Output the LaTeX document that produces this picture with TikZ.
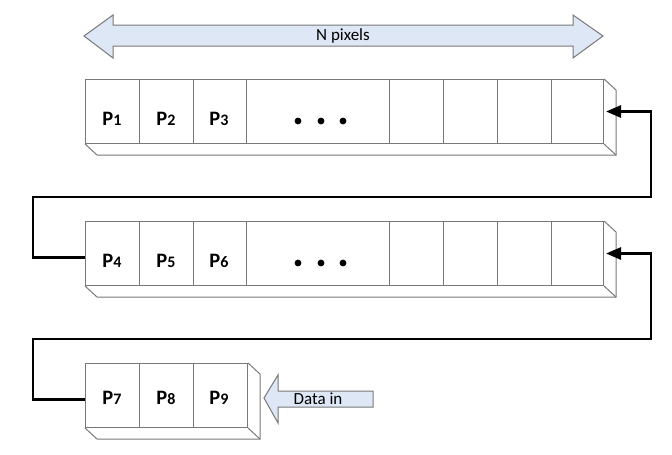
\documentclass[tikz,border=0pt]{standalone}
\usepackage{fontspec}
\setmainfont{Carlito}
\usetikzlibrary{arrows.meta}
\definecolor{lg}{RGB}{120,120,120}
\definecolor{af}{RGB}{222,231,245}
\begin{document}
\begin{tikzpicture}[x=1pt,y=-1pt,
 face/.style={draw=lg,line width=1pt,inner sep=0pt,anchor=north west,minimum height=64pt},
 edge/.style={draw=lg,line width=1pt},
 conn/.style={draw=black,line width=2.7pt,-{Triangle[length=15pt,width=12pt]}},
 big/.style={draw=lg,fill=af,line width=1pt,line join=miter},
 lab/.style={font=\fontsize{20.5}{20.5}\selectfont\bfseries,inner sep=0pt},
 txt/.style={font=\fontsize{17}{17}\selectfont,inner sep=0pt}]
\useasboundingbox (0,0) rectangle (672,455);
% top double arrow
\draw[big] (84,36) -- (113,15) -- (113,25) -- (573,25) -- (573,15) -- (603,36)
  -- (573,58) -- (573,46) -- (113,46) -- (113,58) -- cycle;
\node[txt] (npx) at (343,36) {N pixels};
% row 1
\node[face,minimum width=518pt] (r1) at (85,79) {};
\foreach \n/\a/\b in {1/85/139,2/139/193,3/193/246,4/246/389,5/389/443,6/443/497,7/497/551,8/551/603}
  \node[face,minimum width={(\b-\a)*1pt}] (c1-\n) at (\a,79) {};
\draw[edge] (r1.south west) -- ++(12,11) -- ([shift={(12,11)}]r1.south east)
  -- ([shift={(12,11)}]r1.north east) -- (r1.north east);
\draw[edge] (r1.south east) -- ++(12,11);
\node[lab] (t1) at (112,119) {P{\fontsize{16}{16}\selectfont 1}};
\node[lab] (t2) at (166,119) {P{\fontsize{16}{16}\selectfont 2}};
\node[lab] (t3) at (219,119) {P{\fontsize{16}{16}\selectfont 3}};
\fill (298,121) circle (3.4) (321,121) circle (3.4) (343,121) circle (3.4);
% row 2
\node[face,minimum width=518pt] (r2) at (85,221) {};
\foreach \n/\a/\b in {1/85/139,2/139/193,3/193/246,4/246/389,5/389/443,6/443/497,7/497/551,8/551/603}
  \node[face,minimum width={(\b-\a)*1pt}] (c2-\n) at (\a,221) {};
\draw[edge] (r2.south west) -- ++(12,11) -- ([shift={(12,11)}]r2.south east)
  -- ([shift={(12,11)}]r2.north east) -- (r2.north east);
\draw[edge] (r2.south east) -- ++(12,11);
\node[lab] (t4) at (112,261) {P{\fontsize{16}{16}\selectfont 4}};
\node[lab] (t5) at (166,261) {P{\fontsize{16}{16}\selectfont 5}};
\node[lab] (t6) at (219,261) {P{\fontsize{16}{16}\selectfont 6}};
\fill (298,263) circle (3.4) (321,263) circle (3.4) (343,263) circle (3.4);
% row 3
\node[face,minimum width=162pt] (r3) at (85,363) {};
\foreach \n/\a/\b in {1/85/139,2/139/193,3/193/247}
  \node[face,minimum width={(\b-\a)*1pt}] (c3-\n) at (\a,363) {};
\draw[edge] (r3.south west) -- ++(12,11) -- ([shift={(12,11)}]r3.south east)
  -- ([shift={(12,11)}]r3.north east) -- (r3.north east);
\draw[edge] (r3.south east) -- ++(12,11);
\node[lab] (t7) at (112,398) {P{\fontsize{16}{16}\selectfont 7}};
\node[lab] (t8) at (166,398) {P{\fontsize{16}{16}\selectfont 8}};
\node[lab] (t9) at (219,398) {P{\fontsize{16}{16}\selectfont 9}};
% data in arrow
\draw[big] (264,398) -- (278,375) -- (278,391) -- (373,391) -- (373,407) -- (278,407) -- (278,423) -- cycle;
\node[txt] (din) at (318,399) {Data in};
% connectors
\coordinate (k1) at (33,197);
\coordinate (k2) at (33,339);
\draw[conn] ([yshift=-4pt]r2.west) -| (k1) -| ([xshift=47pt]r1.east) -- ([xshift=2pt]r1.east);
\draw[conn] ([yshift=-4pt]r3.west) -| (k2) -| ([xshift=47pt]r2.east) -- ([xshift=2pt]r2.east);
\end{tikzpicture}
\end{document}
